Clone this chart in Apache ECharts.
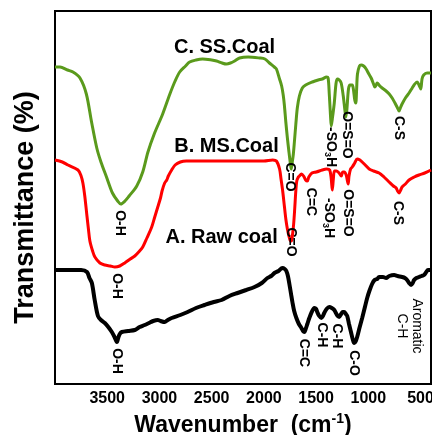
<!DOCTYPE html>
<html lang="en">
<head>
    <meta charset="UTF-8">
    <title>FTIR coal</title>
    <script src="https://cdn.jsdelivr.net/npm/echarts@6/dist/echarts.min.js"></script>
    <style>
        html, body { margin: 0; padding: 0; background: #fff; }
        #app { width: 432px; height: 435px; }
    </style>
</head>
<body>
<div id="app"></div>
<script>
    // tick labels on the wavenumber axis
    var xTicks = [500, 1000, 1500, 2000, 2500, 3000, 3500];

    // [wavenumber, transmittance (arb. units)]
    var ssCoal = [
        [4000, 317], [3952, 317], [3880, 314], [3828, 312], [3761, 306], [3700, 290], [3650, 262],
        [3600, 236], [3560, 222], [3507, 207], [3450, 191], [3400, 183], [3370, 180], [3330, 183],
        [3290, 188], [3217, 198], [3160, 212], [3110, 232], [3050, 250], [2969, 270], [2900, 290],
        [2850, 303], [2806, 312], [2750, 318], [2711, 322], [2650, 324], [2587, 325], [2500, 324],
        [2453, 323], [2400, 321], [2360, 320], [2320, 321], [2280, 323], [2233, 326], [2150, 327],
        [2042, 326], [1990, 325], [1947, 321], [1900, 317], [1880, 315], [1850, 305], [1830, 298],
        [1815, 289], [1804, 279], [1790, 262], [1775, 246], [1760, 232], [1746, 220], [1738, 215],
        [1728, 222], [1718, 230], [1708, 242], [1694, 260], [1680, 276], [1660, 288], [1632, 296],
        [1600, 299], [1536, 302], [1480, 304], [1441, 305], [1400, 307], [1385, 306], [1374, 290],
        [1362, 268], [1355, 258], [1345, 265], [1326, 281], [1310, 300], [1298, 305], [1278, 304],
        [1260, 301], [1240, 288], [1231, 280], [1215, 267], [1205, 275], [1190, 295], [1175, 299],
        [1154, 299], [1142, 294], [1130, 284], [1120, 281], [1112, 295], [1104, 310], [1085, 318],
        [1069, 319], [1045, 318], [1021, 315], [995, 310], [973, 306], [950, 300], [938, 297],
        [925, 299], [916, 301], [890, 298], [868, 296], [830, 293], [800, 290], [772, 286],
        [745, 281], [725, 277], [706, 273], [690, 277], [677, 280], [645, 286], [610, 291],
        [580, 296], [562, 299], [533, 302], [515, 299], [498, 295], [486, 305], [470, 309],
        [438, 311], [400, 311]
    ];
    var msCoal = [
        [4000, 224], [3930, 222], [3876, 219], [3780, 214], [3750, 208], [3733, 201], [3715, 188],
        [3694, 168], [3680, 155], [3666, 143], [3640, 133], [3618, 127], [3570, 121], [3523, 119],
        [3470, 118], [3427, 117], [3380, 118], [3332, 121], [3280, 125], [3236, 128], [3190, 133],
        [3160, 137], [3120, 146], [3074, 157], [3045, 167], [3016, 177], [2990, 186], [2975, 193],
        [2950, 201], [2930, 204], [2915, 208], [2883, 214], [2850, 219], [2800, 222], [2743, 223],
        [2600, 223], [2400, 223], [2200, 223], [2000, 223], [1915, 224], [1880, 223], [1850, 215],
        [1836, 205], [1820, 193], [1804, 178], [1790, 165], [1775, 155], [1760, 148], [1745, 143],
        [1735, 143], [1725, 150], [1715, 160], [1705, 175], [1695, 192], [1685, 203], [1670, 207],
        [1660, 208], [1640, 210], [1620, 208], [1600, 204], [1584, 203], [1570, 207], [1540, 211],
        [1498, 212], [1441, 214], [1400, 215], [1370, 214], [1355, 205], [1345, 194], [1335, 205],
        [1325, 213], [1307, 213], [1280, 211], [1259, 208], [1245, 212], [1231, 212], [1212, 209],
        [1200, 203], [1193, 200], [1185, 208], [1170, 215], [1154, 217], [1130, 221], [1107, 225],
        [1080, 224], [1059, 222], [1030, 219], [992, 215], [950, 213], [897, 211], [850, 207],
        [801, 202], [760, 198], [734, 196], [720, 193], [706, 191], [690, 194], [677, 197],
        [645, 200], [610, 204], [560, 207], [515, 209], [460, 211], [400, 214]
    ];
    var rawCoal = [
        [4000, 114], [3850, 114], [3750, 114], [3694, 112], [3670, 106], [3647, 101], [3620, 84],
        [3589, 68], [3560, 64], [3523, 61], [3490, 57], [3456, 52], [3430, 47], [3408, 42],
        [3395, 46], [3380, 50], [3360, 52], [3300, 53], [3236, 54], [3190, 57], [3141, 59],
        [3100, 61], [3060, 63], [3016, 64], [2990, 63], [2950, 62], [2920, 64], [2883, 66],
        [2800, 69], [2730, 72], [2650, 76], [2568, 79], [2480, 82], [2405, 84], [2330, 88],
        [2252, 91], [2170, 94], [2090, 97], [2020, 101], [1966, 106], [1930, 108], [1899, 111],
        [1860, 113], [1823, 116], [1800, 115], [1785, 113], [1770, 108], [1756, 100], [1740, 90],
        [1727, 82], [1710, 73], [1689, 66], [1665, 60], [1641, 56], [1625, 53], [1613, 52],
        [1600, 55], [1584, 60], [1565, 66], [1546, 71], [1517, 76], [1500, 75], [1489, 72],
        [1470, 68], [1450, 66], [1435, 68], [1422, 71], [1400, 75], [1374, 77], [1350, 76],
        [1326, 74], [1300, 69], [1279, 67], [1260, 70], [1245, 72], [1231, 72], [1215, 70],
        [1202, 68], [1185, 60], [1164, 51], [1150, 45], [1135, 41], [1120, 43], [1107, 47],
        [1085, 56], [1059, 66], [1035, 76], [1011, 86], [990, 93], [964, 100], [940, 104],
        [916, 105], [897, 107], [860, 107], [830, 106], [800, 108], [753, 109], [720, 108],
        [677, 107], [650, 106], [629, 104], [610, 101], [591, 99], [575, 101], [562, 104],
        [540, 106], [515, 107], [490, 108], [467, 109], [445, 112], [429, 114], [400, 114]
    ];

    var seriesNames = ['C. SS.Coal', 'B. MS.Coal', 'A. Raw coal'];
    var seriesNameAt = [[2377, 337], [2358, 238], [2405, 147]];

    // band assignments: text, wavenumber, y (centre of the rotated label)
    var bandLabels = [
        ['O-H', 3379, 161], ['C=O', 1756, 207], ['-SO{s|3}H', 1355, 237], ['O=S=O', 1202, 249], ['C-S', 706, 256],
        ['O-H', 3408, 98], ['C=O', 1737, 142], ['C=C', 1546, 182], ['-SO{s|3}H', 1374, 166], ['O=S=O', 1193, 171], ['C-S', 715, 171],
        ['O-H', 3408, 23], ['C=C', 1613, 31], ['C-H', 1441, 49], ['C-H', 1298, 48], ['C-O', 1135, 21]
    ];
    var aromaticLabel = ['Aromatic\nC-H', 610, 58];

    var FONT = '"Liberation Sans", Arial, sans-serif';
    var myChart = echarts.init(document.getElementById('app'));

    var option = {
        animation: false,
        backgroundColor: '#fff',
        grid: {
            left: 55, right: 1, top: 11, bottom: 51,
            outerBoundsMode: 'none',
            containLabel: false,
            show: true, borderColor: '#000', borderWidth: 2, backgroundColor: 'transparent'
        },
        xAxis: {
            type: 'value',
            inverse: true,
            min: 400,
            max: 4000,
            name: 'Wavenumber  (cm{sup|-1})',
            nameLocation: 'middle',
            nameGap: 25,
            nameTextStyle: {
                fontFamily: FONT, fontSize: 23, fontWeight: 'bold', color: '#000', lineHeight: 27,
                rich: {
                    sup: { fontFamily: FONT, fontSize: 14, fontWeight: 'bold', color: '#000', lineHeight: 14, verticalAlign: 'top' }
                }
            },
            axisLine: { show: true, lineStyle: { color: '#000', width: 2 } },
            axisTick: { show: false },
            splitLine: { show: false },
            axisLabel: {
                customValues: xTicks,
                margin: 7,
                formatter: function (v) { return String(v); },
                fontFamily: FONT, fontSize: 16, fontWeight: 'bold', color: '#000'
            }
        },
        yAxis: {
            type: 'value',
            min: 0,
            max: 373,
            name: 'Transmittance (%)',
            nameLocation: 'middle',
            nameGap: 16,
            nameTextStyle: {
                fontFamily: FONT, fontSize: 27, fontWeight: 'bold', color: '#000',
                padding: [0, 20, 0, 0]
            },
            axisLine: { show: true, lineStyle: { color: '#000', width: 2 } },
            axisTick: { show: false },
            axisLabel: { show: false },
            splitLine: { show: false }
        },
        series: [
            {
                name: seriesNames[0], type: 'line', data: ssCoal, showSymbol: false, smooth: 0.3,
                lineStyle: { color: '#5a9a1c', width: 3 }, z: 3
            },
            {
                name: seriesNames[1], type: 'line', data: msCoal, showSymbol: false, smooth: 0.3,
                lineStyle: { color: '#ff0000', width: 3 }, z: 2
            },
            {
                name: seriesNames[2], type: 'line', data: rawCoal, showSymbol: false, smooth: 0.3,
                lineStyle: { color: '#000', width: 4 }, z: 2
            }
        ]
    };
    myChart.setOption(option);

    // labels placed through the axes' own scales
    var elements = [];
    seriesNames.forEach(function (name, i) {
        var p = myChart.convertToPixel({ gridIndex: 0 }, seriesNameAt[i]);
        elements.push({
            type: 'text', x: p[0], y: p[1], z: 10,
            style: {
                text: name, fill: '#000', align: 'center', verticalAlign: 'middle',
                font: 'bold 20px ' + FONT
            }
        });
    });
    bandLabels.forEach(function (b) {
        var p = myChart.convertToPixel({ gridIndex: 0 }, [b[1], b[2]]);
        elements.push({
            type: 'text', x: p[0], y: p[1], rotation: -Math.PI / 2, z: 10,
            style: {
                text: b[0], fill: '#000', align: 'center', verticalAlign: 'middle',
                font: 'bold 14px ' + FONT, lineHeight: 16,
                rich: {
                    s: { font: 'bold 9px ' + FONT, fill: '#000', lineHeight: 9, verticalAlign: 'bottom' }
                }
            }
        });
    });
    var pa = myChart.convertToPixel({ gridIndex: 0 }, [aromaticLabel[1], aromaticLabel[2]]);
    elements.push({
        type: 'text', x: pa[0], y: pa[1], rotation: -Math.PI / 2, z: 10,
        style: {
            text: aromaticLabel[0], fill: '#000', align: 'center', verticalAlign: 'middle',
            font: '14px ' + FONT, lineHeight: 15
        }
    });
    myChart.setOption({ graphic: elements });
</script>
</body>
</html>
